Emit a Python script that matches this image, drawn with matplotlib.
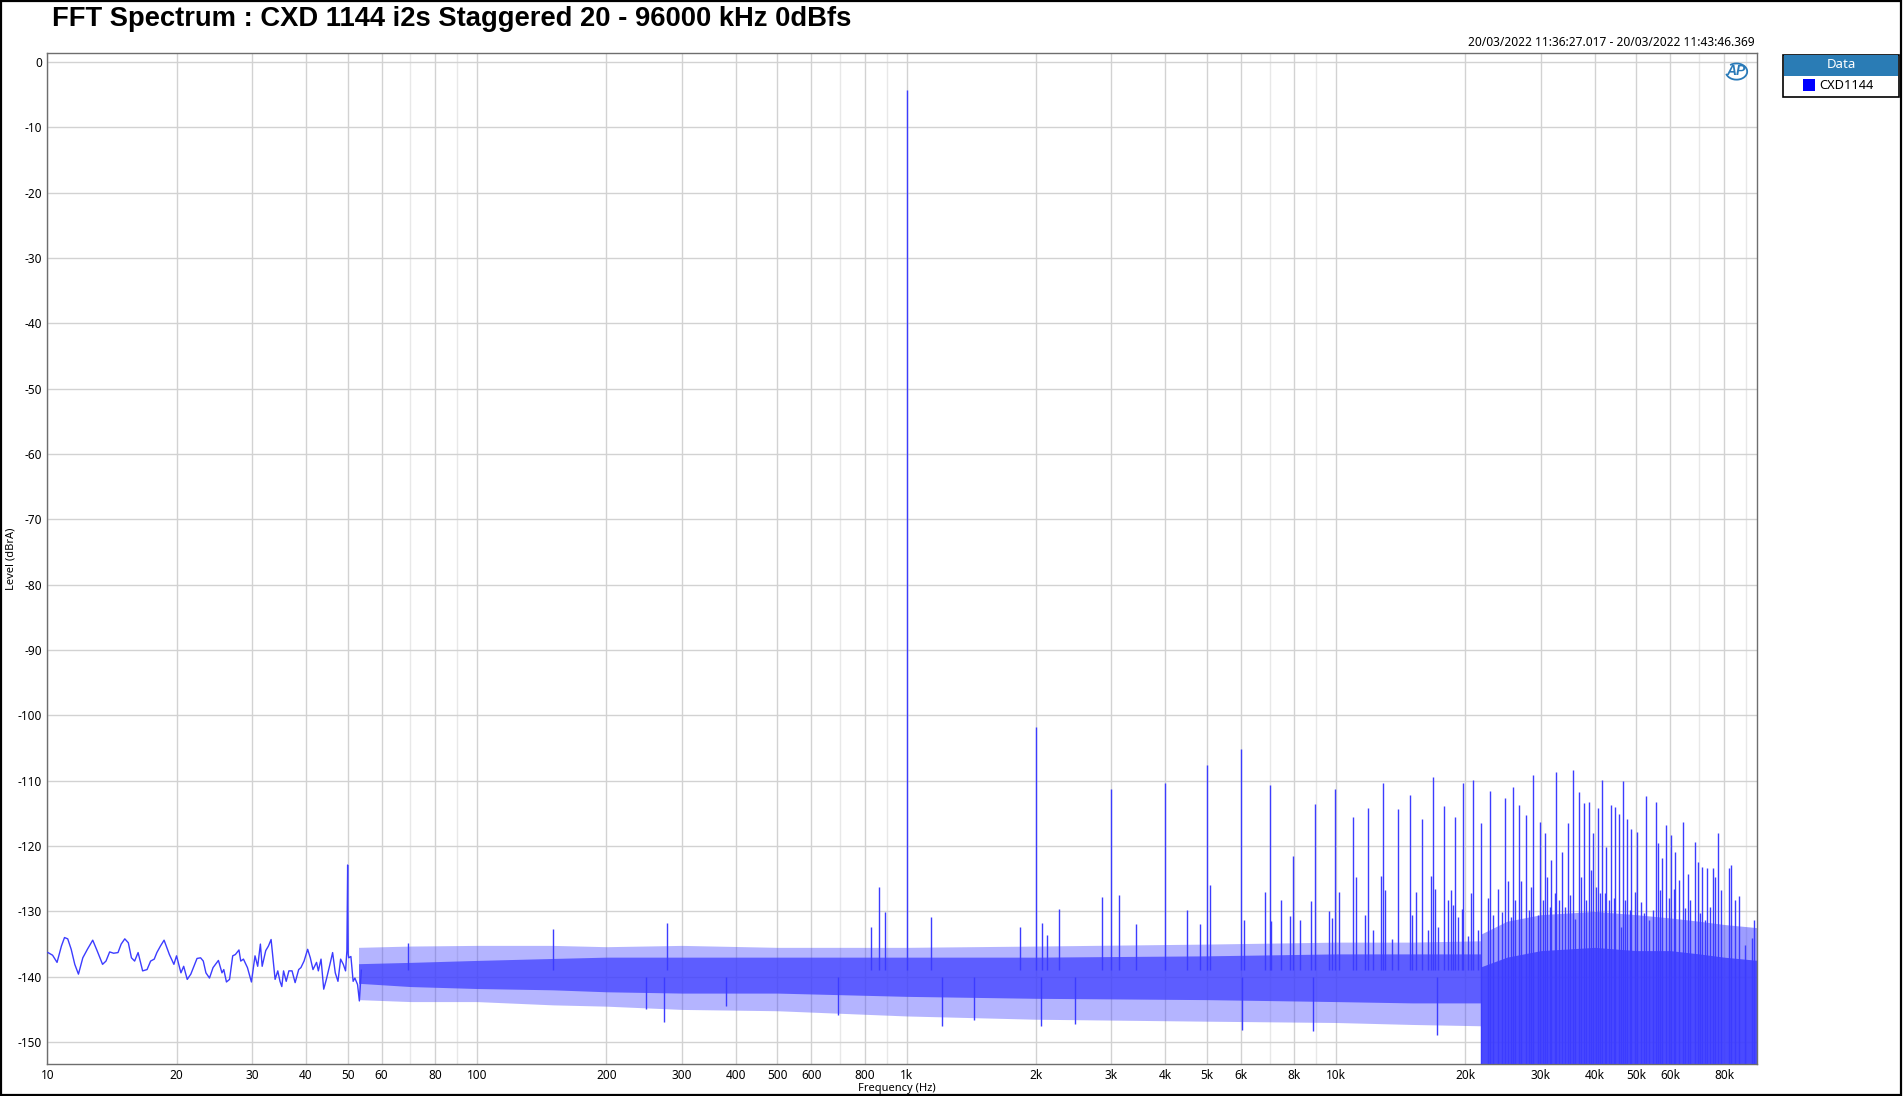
"""FFT spectrum of the CXD1144 (AP analyser style export)."""
import matplotlib as mpl
mpl.use("Agg")
import matplotlib.pyplot as plt
from matplotlib.patches import Rectangle, Arc
from matplotlib.ticker import FixedLocator, NullFormatter

BLUE = "#3c3cff"

# --- data ----------------------------------------------------------------
# low-frequency trace (Hz, dBrA), where single wiggles are still visible
lf_freq = [10.03, 10.28, 10.53, 10.78, 10.96, 11.15, 11.36, 11.58, 11.81, 12.09,
           12.39, 12.75, 13.05, 13.44, 13.69, 13.96, 14.26, 14.60, 14.85, 15.14,
           15.43, 15.69, 15.96, 16.26, 16.66, 17.06, 17.39, 17.73, 17.98, 18.33,
           18.69, 19.23, 19.70, 19.98, 20.46, 20.76, 21.16, 21.57, 22.30, 22.73,
           23.06, 23.39, 23.84, 24.30, 25.01, 25.49, 25.74, 26.11, 26.55, 27.00,
           27.39, 27.92, 28.19, 28.60, 29.22, 29.85, 30.43, 30.87, 31.32, 31.62,
           32.23, 32.70, 33.17, 33.89, 34.38, 34.79, 35.13, 35.46, 35.97, 36.49,
           37.11, 37.73, 38.46, 38.92, 39.58, 40.35, 40.93, 41.52, 42.32, 42.73,
           43.35, 43.98, 44.61, 45.47, 46.13, 46.79, 47.47, 48.15, 48.85, 49.44,
           49.80, 50.00, 50.15, 50.28, 50.88, 51.49, 51.98, 52.73, 53.24, 53.8]
lf_level = [-136.3, -136.7, -137.8, -135.3, -134.0, -134.2, -135.8, -138.1, -139.6, -137.1,
            -135.8, -134.4, -136.0, -138.1, -137.6, -136.2, -136.4, -136.3, -135.0, -134.2,
            -134.8, -137.1, -137.6, -136.3, -139.1, -138.9, -137.6, -137.3, -136.3, -135.3,
            -134.4, -136.6, -138.1, -136.8, -139.4, -138.4, -140.4, -139.6, -137.2, -137.1,
            -137.6, -139.4, -140.2, -138.6, -137.5, -139.4, -138.9, -140.8, -140.4, -136.8,
            -136.6, -135.9, -137.6, -137.3, -138.6, -140.8, -136.8, -138.4, -135.0, -138.4,
            -136.0, -135.3, -134.3, -140.4, -139.1, -140.7, -141.5, -139.1, -140.7, -139.1,
            -139.1, -140.9, -138.9, -138.6, -137.6, -135.8, -137.1, -138.9, -137.8, -139.1,
            -137.3, -141.9, -140.4, -138.1, -136.3, -139.4, -140.7, -137.3, -138.1, -139.1,
            -136.0, -122.9, -136.5, -137.1, -136.9, -140.7, -140.2, -141.2, -143.7, -139.0]

# noise floor band (53 Hz .. 21.7 kHz): outer extent and dense core
band_freq = [53, 70, 100, 150, 200, 300, 500, 1000, 2000, 5000, 10000, 15000, 21700]
outer_hi = [-135.5, -135.3, -135.2, -135.2, -135.4, -135.2, -135.5, -135.5, -135.3, -135.0, -134.7, -134.7, -134.5]
outer_lo = [-143.5, -143.8, -143.8, -144.3, -144.5, -145.0, -145.2, -146.0, -146.5, -146.8, -147.0, -147.3, -147.5]
core_hi = [-138.0, -137.8, -137.5, -137.2, -137.0, -137.0, -137.0, -137.0, -137.0, -136.8, -136.5, -136.5, -136.5]
core_lo = [-141.0, -141.5, -141.8, -142.0, -142.3, -142.5, -142.5, -143.0, -143.3, -143.5, -143.8, -144.0, -144.0]

# above 21.7 kHz the floor drops off the bottom of the plot
hf_freq = [21700, 25000, 30000, 40000, 50000, 60000, 70000, 80000, 96000]
hf_outer_hi = [-133.5, -131.5, -130.5, -130.0, -130.5, -131.0, -131.5, -132.0, -132.5]
hf_core_hi = [-138.5, -137.0, -136.0, -135.5, -136.0, -136.0, -136.5, -137.0, -137.5]

# discrete spectral lines (Hz, dBrA)
spike_freq = [69.1, 150.3, 276.6, 825, 861, 889, 1000, 1138,
              1833, 2000, 2063, 2124, 2262, 2858, 3000, 3126, 3413, 4000, 4508,
              4816, 5000, 5097, 6000, 6113, 6840, 7000, 7044, 7431, 7800, 7940,
              8256, 8755, 8950, 9620, 9800, 9957, 10170,
              10950, 11100, 11680, 11890, 12180, 12750, 12880, 13000, 13470, 13960,
              14830, 14990, 15370, 15870, 16390, 16660, 16840, 17020, 17290, 17880,
              18240, 18510, 18740, 18940, 19180, 19600, 19800, 20270, 20640, 20850,
              21380, 21770, 22600, 22850, 23170, 23850, 24280, 24760, 25070, 25510,
              25840, 26160, 26730, 26970, 27650, 28100, 28460, 28760, 29540, 29810,
              30290, 30670, 31000, 31450, 31720, 32410, 32590, 33110, 33590, 34070,
              34690, 35120, 35630, 36080, 36730, 37260, 37790, 38200, 38750, 39310,
              39660, 40300, 40810, 41250, 41620, 42220, 42600, 43130, 43750, 44300,
              44700, 45500, 46160, 46570, 47160, 47580, 48270, 48690, 49580, 50290,
              51380, 52030, 52680, 53440, 54600, 55470, 56270, 56890, 57390, 58640,
              59490, 60340, 61100, 61650, 62990, 64230, 65040, 65860, 66810, 68610,
              69600, 70470, 71110, 72390, 73170, 74350, 75430, 76370, 77470, 78870,
              82030, 83200, 85000, 86860, 89370, 92950, 93960]
spike_level = [-134.8, -132.7, -131.7, -132.4, -126.3, -130.1, -4.3, -130.8,
               -132.4, -101.8, -131.7, -133.6, -129.7, -127.8, -111.2, -127.5, -132.0, -110.3, -129.8,
               -132.0, -107.6, -125.9, -105.2, -131.3, -127.1, -110.6, -131.5, -128.3, -130.7, -121.5,
               -131.3, -128.4, -113.5, -129.9, -131.0, -111.3, -127.1,
               -115.5, -124.8, -130.6, -114.2, -132.9, -124.6, -110.3, -126.8, -134.2, -114.4,
               -112.2, -130.6, -127.0, -115.8, -132.9, -124.6, -109.5, -126.5, -132.4, -113.8,
               -128.3, -126.8, -129.0, -115.5, -130.8, -129.7, -110.3, -133.7, -127.2, -109.9,
               -132.9, -116.5, -128.0, -111.5, -130.6, -126.6, -130.1, -112.6, -125.4, -130.8,
               -110.9, -128.3, -113.7, -125.4, -115.2, -129.8, -126.2, -109.1, -130.6, -116.3,
               -128.3, -118.0, -124.7, -129.3, -122.1, -127.2, -108.6, -128.3, -120.9, -129.3,
               -116.4, -127.5, -108.3, -131.1, -111.8, -124.7, -113.4, -128.3, -113.3, -123.6,
               -118.0, -126.2, -114.2, -127.2, -109.9, -127.2, -120.1, -128.3, -113.7, -128.0,
               -114.0, -115.1, -132.4, -110.1, -128.3, -115.8, -129.8, -117.4, -127.0, -117.9,
               -128.5, -130.3, -112.3, -131.3, -129.8, -113.2, -119.6, -126.7, -121.8, -116.8,
               -128.0, -118.3, -126.5, -120.9, -125.2, -116.3, -129.5, -124.2, -128.3, -119.4,
               -122.4, -130.3, -123.2, -131.3, -123.4, -129.3, -123.4, -124.7, -118.0, -126.7,
               -123.4, -122.9, -128.3, -127.7, -135.2, -134.0, -131.3]

# deepest downward excursions of the noise floor (Hz, dBrA)
dip_freq = [248, 272, 381, 691, 1209, 1433, 2051, 2466, 6053, 8831, 17200]
dip_level = [-144.9, -146.9, -144.5, -145.8, -147.6, -146.6, -147.5, -147.3, -148.2, -148.3, -148.9]

x_ticks = [10, 20, 30, 40, 50, 60, 80, 100, 200, 300, 400, 500, 600, 800,
           1000, 2000, 3000, 4000, 5000, 6000, 8000, 10000, 20000, 30000, 40000,
           50000, 60000, 80000]
x_labels = ["10", "20", "30", "40", "50", "60", "80", "100", "200", "300", "400",
            "500", "600", "800", "1k", "2k", "3k", "4k", "5k", "6k", "8k", "10k",
            "20k", "30k", "40k", "50k", "60k", "80k"]
y_ticks = list(range(0, -151, -10))

# --- figure ------------------------------------------------------------------
fig = plt.figure(figsize=(19.04, 10.96), dpi=100)
ax = fig.add_axes([0.0249, 0.0295, 0.8979, 0.9218])
ax.set_xscale("log")
ax.set_xlim(10, 95500)
ax.set_ylim(-153.3, 1.3)

# grid: labelled steps + fainter 7/9 lines
faint = [70, 90, 700, 900, 7000, 9000, 70000, 90000]
for f in x_ticks:
    ax.axvline(f, color="#d2d2d2", lw=1.0, zorder=0)
for f in faint:
    ax.axvline(f, color="#e8e8e8", lw=1.0, zorder=0)
for y in y_ticks:
    ax.axhline(y, color="#d2d2d2", lw=1.0, zorder=0)

# noise floor
ax.plot(lf_freq, lf_level, color=BLUE, lw=1.0, zorder=3)
ax.fill_between(band_freq, outer_lo, outer_hi, color=BLUE, alpha=0.38, lw=0, zorder=2)
ax.fill_between(band_freq, core_lo, core_hi, color=BLUE, alpha=0.72, lw=0, zorder=2)
ax.fill_between(hf_freq, -160, hf_outer_hi, color=BLUE, alpha=0.5, lw=0, zorder=2)
ax.fill_between(hf_freq, -160, hf_core_hi, color=BLUE, alpha=0.85, lw=0, zorder=2)

# spectral lines and dips
base = [-160 if f > 21700 else -139 for f in spike_freq]
ax.vlines(spike_freq, base, spike_level, color=BLUE, lw=1.0, zorder=3)
ax.vlines(dip_freq, -140, dip_level, color=BLUE, lw=1.0, zorder=3)

# axes styling
for s in ax.spines.values():
    s.set_color("#6e6e6e")
    s.set_linewidth(1.0)
ax.xaxis.set_major_locator(FixedLocator(x_ticks))
ax.xaxis.set_minor_formatter(NullFormatter())
ax.set_xticklabels(x_labels)
ax.set_yticks(y_ticks)
ax.set_yticklabels([str(v) for v in y_ticks])
ax.tick_params(which="both", length=0, labelsize=8.5, pad=4)
for lab in ax.get_xticklabels() + ax.get_yticklabels():
    lab.set_fontfamily("Noto Sans")
ax.set_xlabel("Frequency (Hz)", fontsize=8, family="Noto Sans", labelpad=1)
ax.set_ylabel("Level (dBrA)", fontsize=8, family="Noto Sans", labelpad=2)
ax.xaxis.set_label_coords(0.497, -0.019)
ax.yaxis.set_label_coords(-0.018, 0.5)

# AP logo in the corner
ax.text(0.9875, 0.983, "AP", transform=ax.transAxes, ha="center", va="center",
        fontsize=10, fontweight="bold", style="italic", color="#2a7ab8",
        family="Liberation Sans", zorder=5)
ax.add_patch(Arc((0.988, 0.982), 0.0125, 0.016, transform=ax.transAxes, theta1=200,
                 theta2=120, color="#2a7ab8", lw=1.3, zorder=5))

# titles
fig.text(52 / 1904, 1 - 19.5 / 1096, "FFT Spectrum : CXD 1144 i2s Staggered 20 - 96000 kHz 0dBfs",
         ha="left", va="center", fontsize=19.7, fontweight="bold", family="Liberation Sans")
fig.text(1755 / 1904, 1 - 42 / 1096, "20/03/2022 11:36:27.017 - 20/03/2022 11:43:46.369",
         ha="right", va="center", fontsize=8.6, family="Noto Sans")

# legend panel
W, H = 1904, 1096
fig.patches.append(Rectangle((1783 / W, 1 - 97 / H), 116 / W, 42 / H, transform=fig.transFigure,
                             fc="white", ec="black", lw=1.2))
fig.patches.append(Rectangle((1784 / W, 1 - 75.5 / H), 114 / W, 20.5 / H, transform=fig.transFigure,
                             fc="#2a7cb5", ec="none"))
fig.text(1841 / W, 1 - 65 / H, "Data", ha="center", va="center", fontsize=9.5,
         fontweight="bold", color="white", family="Noto Sans")
fig.patches.append(Rectangle((1803 / W, 1 - 91 / H), 12 / W, 12 / H, transform=fig.transFigure,
                             fc="#0000ff", ec="none"))
fig.text(1819 / W, 1 - 85.5 / H, "CXD1144", ha="left", va="center", fontsize=9.2,
         family="Noto Sans")

# outer frame of the exported image
fig.patches.append(Rectangle((0.5 / W, 1.5 / H), 1900 / W, 1094 / H, transform=fig.transFigure,
                             fc="none", ec="black", lw=1.6))

fig.savefig("out.png", dpi=100)
